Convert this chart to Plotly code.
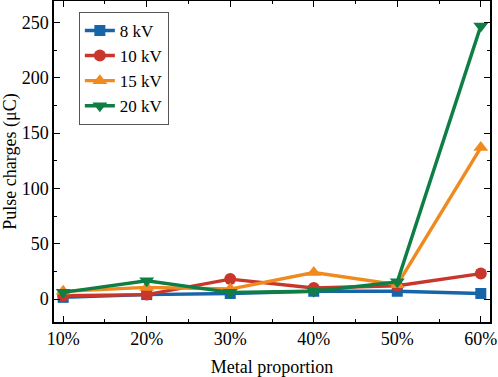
import plotly.graph_objects as go

categories = ["10%", "20%", "30%", "40%", "50%", "60%"]
series_names = ["8 kV", "10 kV", "15 kV", "20 kV"]
v8 = [1.5, 4, 5, 7, 7, 5]
v10 = [3, 4, 18, 10, 12, 23]
v15 = [7, 10.5, 9, 24, 13, 137]
v20 = [6, 16.5, 6, 7, 15.5, 247]
y_ticks = [0, 50, 100, 150, 200, 250]

colors = ["#1565A8", "#C9372C", "#F08A1F", "#0E7E45"]
symbols = ["square", "circle", "triangle-up", "triangle-down"]
sizes = [11, 12, 13, 13]

x_idx = list(range(len(categories)))
fig = go.Figure()
for name, vals, c, s, sz in zip(series_names, [v8, v10, v15, v20], colors, symbols, sizes):
    fig.add_trace(go.Scatter(
        x=x_idx, y=vals, name=name, mode="lines+markers",
        line=dict(color=c, width=3.4),
        marker=dict(symbol=s, size=sz, color=c),
    ))

font = "Liberation Serif"
fig.update_layout(
    width=498, height=377,
    margin=dict(l=54, r=8, t=1, b=55),
    paper_bgcolor="white", plot_bgcolor="white",
    font=dict(family=font, size=18, color="black"),
    showlegend=True,
    legend=dict(
        x=0.057, y=0.966, xanchor="left", yanchor="top",
        bordercolor="#555555", borderwidth=1, bgcolor="white",
        font=dict(family=font, size=17),
        tracegroupgap=0, itemwidth=30,
    ),
)
fig.update_xaxes(
    range=[-0.11, 5.11],
    tickmode="array", tickvals=x_idx, ticktext=categories,
    ticks="inside", ticklen=6, tickwidth=1.2, tickcolor="black",
    minor=dict(ticks="inside", ticklen=3, tickwidth=1.2, tickcolor="black", dtick=0.5, tick0=0),
    showline=True, linecolor="black", linewidth=1.5, mirror="allticks",
    showgrid=False, zeroline=False,
    title=dict(text="Metal proportion", standoff=14, font=dict(family=font, size=18)),
    tickfont=dict(family=font, size=18),
    automargin=False,
)
fig.update_yaxes(
    range=[-20.8, 269.5],
    tickmode="array", tickvals=y_ticks,
    ticks="inside", ticklen=6, tickwidth=1.2, tickcolor="black",
    minor=dict(ticks="inside", ticklen=3, tickwidth=1.2, tickcolor="black", dtick=25, tick0=0),
    showline=True, linecolor="black", linewidth=1.5, mirror="allticks",
    showgrid=False, zeroline=False,
    title=dict(text="Pulse charges (μC)", standoff=2, font=dict(family=font, size=18)),
    tickfont=dict(family=font, size=18),
    automargin=True,
)
fig.write_html("out.html", config={"displayModeBar": False},
               post_script="document.body.style.margin='0';document.body.style.padding='0';")
